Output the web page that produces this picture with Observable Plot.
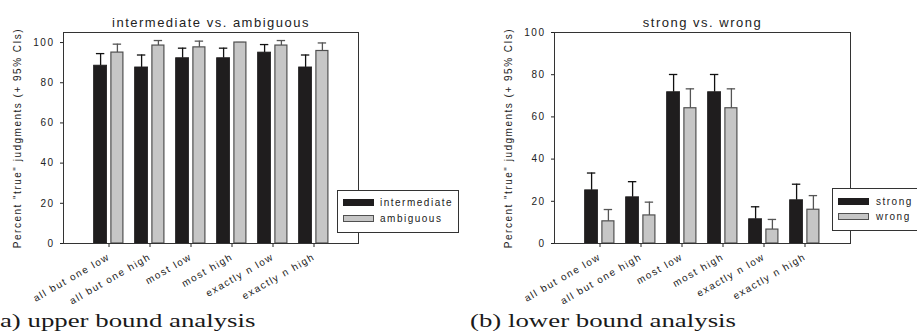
<!DOCTYPE html>
<html>
<head>
<meta charset="utf-8">
<script src="https://cdn.jsdelivr.net/npm/d3@7"></script>
<script src="https://cdn.jsdelivr.net/npm/@observablehq/plot@0.6"></script>
<style>
  html, body { margin: 0; padding: 0; background: #fff; }
  #wrap { position: relative; width: 917px; height: 336px; overflow: hidden; background: #fff; }
  .panel { position: absolute; top: 0; }
  .legend { position: absolute; background: #fff; border: 1px solid #333; box-sizing: border-box;
            font-family: "Liberation Sans", Arial, sans-serif; font-size: 10px; letter-spacing: 1.5px; color: #222; }
  .sw { position: absolute; box-sizing: border-box; }
  .lt { position: absolute; line-height: 10px; white-space: nowrap; }
  .cap { position: absolute; top: 311px; font-family: "Liberation Serif", "Times New Roman", serif; font-size: 18.5px;
         color: #1a1a1a; white-space: nowrap; transform: scaleX(1.45); transform-origin: 0 0; }
</style>
</head>
<body>
<div id="wrap"></div>
<script>
// ---- data ----
const categories = ["all but one low", "all but one high", "most low", "most high", "exactly n low", "exactly n high"];

const leftTitle = "intermediate vs. ambiguous";
const leftSeries = ["intermediate", "ambiguous"];
const intermediateValues = [88.5, 87.6, 92.2, 92.2, 95.0, 87.6];
const intermediateUpper  = [94.5, 93.8, 97.2, 97.2, 99.0, 93.8];
const ambiguousValues    = [95.0, 98.5, 97.6, 100.0, 98.5, 95.8];
const ambiguousUpper     = [99.2, 101.0, 100.7, 100.0, 101.0, 99.8];

const rightTitle = "strong vs. wrong";
const rightSeries = ["strong", "wrong"];
const strongValues = [25.2, 21.9, 71.7, 71.7, 11.5, 20.5];
const strongUpper  = [33.4, 29.3, 80.1, 80.1, 17.4, 28.1];
const wrongValues  = [10.5, 13.3, 64.1, 64.1, 6.6, 16.0];
const wrongUpper   = [16.1, 19.6, 73.3, 73.3, 11.4, 22.7];

const yTicks = [0, 20, 40, 60, 80, 100];
const yLabel = "Percent \"true\" judgments (+ 95% CIs)";
const captions = ["(a) upper bound analysis", "(b) lower bound analysis"];

// ---- styles ----
const DARK = "#1f1d1e", LIGHT = "#c6c6c6", LIGHT_STROKE = "#505050";

function rows(vals, ups) {
  return categories.map((c, i) => ({cat: c, value: vals[i], upper: ups[i]}));
}

function panel({title, a, b, yMax, width, marginLeft, marginRight}) {
  const off = 8.4;
  const errA = {x: "cat", y1: "value", y2: "upper", dx: -off, stroke: "#111", strokeWidth: 1.3};
  const errB = {x: "cat", y1: "value", y2: "upper", dx: off, stroke: "#555", strokeWidth: 1.3};
  return Plot.plot({
    width, height: 300,
    marginLeft, marginRight, marginTop: 32, marginBottom: 57,
    style: {fontFamily: "Liberation Sans, Arial, sans-serif", fontSize: "10px", letterSpacing: "1.5px", color: "#222", background: "transparent", overflow: "visible"},
    x: {domain: categories, paddingInner: 0.69, paddingOuter: 0.875, tickRotate: -30, tickSize: 4, label: null},
    y: {domain: [0, yMax], ticks: yTicks, tickSize: 3, label: null},
    marks: [
      Plot.ruleX(a, errA),
      Plot.tickY(a, {x: "cat", y: "upper", dx: -off, insetLeft: 2.3, insetRight: 2.3, stroke: "#111", strokeWidth: 1.3}),
      Plot.ruleX(b, errB),
      Plot.tickY(b, {x: "cat", y: "upper", dx: off, insetLeft: 2.3, insetRight: 2.3, stroke: "#555", strokeWidth: 1.3}),
      Plot.barY(a, {x: "cat", y: "value", dx: -off, fill: DARK, stroke: DARK, strokeWidth: 0.8}),
      Plot.barY(b, {x: "cat", y: "value", dx: off, fill: LIGHT, stroke: LIGHT_STROKE, strokeWidth: 1.2, insetLeft: 0.5, insetRight: 0.5}),
      Plot.frame({stroke: "#333", strokeWidth: 1}),
      Plot.text([title], {text: d => d, frameAnchor: "top", lineAnchor: "bottom", dy: -6, fontSize: 13, fill: "#222"}),
      Plot.text([yLabel], {text: d => d, frameAnchor: "left", textAnchor: "middle", rotate: -90, dx: -46, fontSize: 10, fill: "#222"})
    ]
  });
}

const wrap = document.getElementById("wrap");

function addPanel(left, plot) {
  const d = document.createElement("div");
  d.className = "panel";
  d.style.left = left + "px";
  d.appendChild(plot);
  wrap.appendChild(d);
}

addPanel(0, panel({title: leftTitle, a: rows(intermediateValues, intermediateUpper), b: rows(ambiguousValues, ambiguousUpper), yMax: 105, width: 457, marginLeft: 63, marginRight: 99}));
addPanel(457, panel({title: rightTitle, a: rows(strongValues, strongUpper), b: rows(wrongValues, wrongUpper), yMax: 100, width: 460, marginLeft: 97, marginRight: 67}));

function legend(names, box) {
  const l = document.createElement("div");
  l.className = "legend";
  Object.assign(l.style, {left: box.x + "px", top: box.y + "px", width: box.w + "px", height: box.h + "px"});
  names.forEach((n, i) => {
    const s = document.createElement("div");
    s.className = "sw";
    Object.assign(s.style, {left: "5px", top: (box.sy[i] - box.y - 1) + "px", width: "31px", height: "7px",
      background: i === 0 ? DARK : LIGHT, border: "1px solid " + (i === 0 ? DARK : LIGHT_STROKE)});
    l.appendChild(s);
    const t = document.createElement("div");
    t.className = "lt";
    t.textContent = n;
    Object.assign(t.style, {left: (box.tx - box.x - 1) + "px", top: (box.sy[i] - box.y - 2) + "px"});
    l.appendChild(t);
  });
  wrap.appendChild(l);
}
legend(leftSeries, {x: 337, y: 190, w: 122, h: 43, sy: [199, 215], tx: 380});
legend(rightSeries, {x: 832, y: 188, w: 90, h: 43, sy: [198, 213], tx: 876});

captions.forEach((c, i) => {
  const d = document.createElement("div");
  d.className = "cap";
  d.textContent = c;
  d.style.left = (i === 0 ? -9 : 470) + "px";
  wrap.appendChild(d);
});
</script>
</body>
</html>
